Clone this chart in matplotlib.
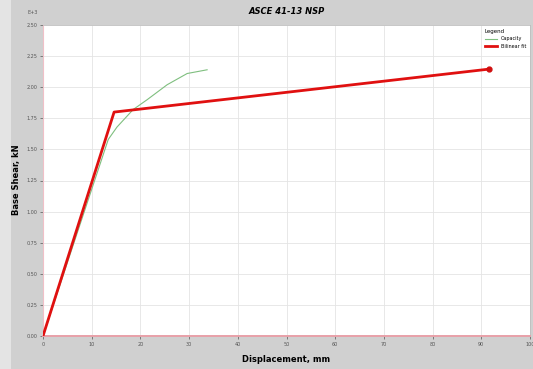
import numpy as np
import matplotlib
matplotlib.use("Agg")
import matplotlib.pyplot as plt
from matplotlib.patches import Rectangle

# capacity curve (pushover)
cap_disp = [0.0, 13.4, 15.2, 18.5, 21.4, 25.5, 29.6, 33.7]
cap_shear = [0.0, 1.58, 1.68, 1.82, 1.90, 2.02, 2.11, 2.14]

# bilinear fit
fit_disp = [0.0, 14.6, 91.5]
fit_shear = [0.0, 1.80, 2.145]

xticks = np.arange(0, 101, 10)
yticks = np.arange(0, 2.51, 0.25)

fig = plt.figure(figsize=(5.33, 3.69), dpi=100)
fig.patch.set_facecolor("#d0d0d0")
# lighter strip on the far left
fig.patches.append(Rectangle((0, 0), 11/533, 1, transform=fig.transFigure,
                             facecolor="#e4e4e4", edgecolor="none", zorder=-1))

ax = fig.add_axes([43/533, 33/369, 487/533, 311/369])
ax.set_facecolor("white")

ax.plot(cap_disp, cap_shear, color="#7fbf7f", lw=0.8, label="Capacity", zorder=3)
ax.plot(fit_disp, fit_shear, color="#e01010", lw=2.0, label="Bilinear fit", zorder=4)
ax.plot(fit_disp[-1], fit_shear[-1], "o", color="#d01010", ms=3.5, zorder=5)

ax.set_xlim(0, 100)
ax.set_ylim(0, 2.5)
ax.set_xticks(xticks)
ax.set_yticks(yticks)
ax.set_xticklabels([str(v) for v in xticks])
ax.set_yticklabels(["%.2f" % v for v in yticks])
ax.tick_params(labelsize=3.5, length=2, width=0.5, colors="#555555", pad=2)
ax.grid(True, color="#e4e4e4", lw=0.6)
ax.set_axisbelow(True)
for s in ["top", "right"]:
    ax.spines[s].set_color("#bbbbbb")
    ax.spines[s].set_linewidth(0.5)
ax.spines["bottom"].set_color("#e8a0a8")
ax.spines["bottom"].set_linewidth(1.4)
ax.spines["left"].set_color("#f0c0c8")
ax.spines["left"].set_linewidth(0.8)

ax.set_xlabel("Displacement, mm", fontsize=6, fontweight="bold", labelpad=6)
fig.text(17/533, 1 - 180/369, "Base Shear, kN", fontsize=6, fontweight="bold",
         rotation=90, ha="center", va="center")
ax.set_title("ASCE 41-13 NSP", fontsize=6, fontweight="bold", style="italic", pad=8)
fig.text(27/533, 1 - 13/369, "E+3", fontsize=3.5, color="#555555", va="center")

leg = ax.legend(loc="upper right", title="Legend", fontsize=3.5, title_fontsize=4,
                frameon=False, handlelength=2.5, borderaxespad=0.4)
leg._legend_box.align = "left"

fig.savefig("out.png", dpi=100, facecolor=fig.get_facecolor())
